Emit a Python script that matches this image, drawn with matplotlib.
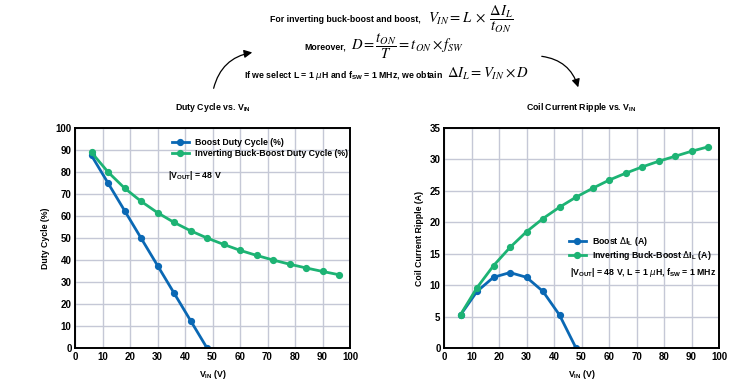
import matplotlib
matplotlib.use('Agg')
import matplotlib.pyplot as plt
from matplotlib.patches import FancyArrowPatch

plt.rcParams['font.family'] = ['Liberation Sans', 'DejaVu Sans']

# Data
vin_boost = [6, 12, 18, 24, 30, 36, 42, 48]
vin_inv = [6, 12, 18, 24, 30, 36, 42, 48, 54, 60, 66, 72, 78, 84, 90, 96]
duty_boost = [87.5, 75.0, 62.5, 50.0, 37.5, 25.0, 12.5, 0.0]
duty_inv = [88.9, 80.0, 72.7, 66.7, 61.5, 57.1, 53.3, 50.0, 47.1, 44.4, 42.1, 40.0, 38.1, 36.4, 34.8, 33.3]
ripple_boost = [5.25, 9.0, 11.25, 12.0, 11.25, 9.0, 5.25, 0.0]
ripple_inv = [5.3, 9.6, 13.1, 16.0, 18.5, 20.6, 22.4, 24.0, 25.4, 26.7, 27.8, 28.8, 29.7, 30.5, 31.3, 32.0]

blue = '#0a68b4'
green = '#1db374'
grid_c = '#c5c8d6'
fs = 6.3

W, H = 738, 384
fig = plt.figure(figsize=(W / 100, H / 100), dpi=100)


def px_axes(x0, y0, x1, y1):
    return fig.add_axes([x0 / W, 1 - y1 / H, (x1 - x0) / W, (y1 - y0) / H])


def style(ax, ymax, ystep):
    ax.set_xlim(0, 100)
    ax.set_ylim(0, ymax)
    ax.set_xticks(range(0, 101, 10))
    ax.set_yticks(range(0, ymax + 1, ystep))
    ax.grid(True, color=grid_c, linewidth=1.0)
    ax.set_axisbelow(True)
    ax.tick_params(length=0, labelsize=7)
    ax.tick_params(axis='y', pad=2.5)
    ax.tick_params(axis='x', pad=3)
    for s in ax.spines.values():
        s.set_linewidth(1.4)
        s.set_color('black')
    for lab in ax.get_xticklabels() + ax.get_yticklabels():
        lab.set_fontweight('bold')
    ax.set_xlabel(r'V$_\mathregular{IN}$ (V)', fontsize=fs, fontweight='bold', labelpad=4)


line_kw = dict(linewidth=2.0, marker='o', markersize=4.2)
leg_kw = dict(loc='upper left', frameon=False, prop={'size': fs, 'weight': 'bold'},
              handlelength=1.9, handletextpad=0.7, labelspacing=0.2, borderpad=0, borderaxespad=0)

# Left: duty cycle
ax1 = px_axes(75, 128, 350, 348)
ax1.plot(vin_boost, duty_boost, color=blue, label='Boost Duty Cycle (%)', **line_kw)
ax1.plot(vin_inv, duty_inv, color=green, label='Inverting Buck-Boost Duty Cycle (%)', **line_kw)
style(ax1, 100, 10)
ax1.set_ylabel('Duty Cycle (%)', fontsize=fs, fontweight='bold', labelpad=4)
ax1.legend(bbox_to_anchor=(0.353, 0.955), **leg_kw)
ax1.text(0.338, 0.786, r'|V$_\mathregular{OUT}$| = 48 V', transform=ax1.transAxes,
         fontsize=fs, fontweight='bold', va='center')
ax1.set_title(r'Duty Cycle vs. V$_\mathregular{IN}$', fontsize=fs, fontweight='bold', pad=13)

# Right: coil current ripple
ax2 = px_axes(444, 128, 719, 348)
ax2.plot(vin_boost, ripple_boost, color=blue, label=r'Boost $\Delta$I$_\mathregular{L}$ (A)', **line_kw)
ax2.plot(vin_inv, ripple_inv, color=green, label=r'Inverting Buck-Boost $\Delta$I$_\mathregular{L}$ (A)', **line_kw)
style(ax2, 35, 5)
ax2.set_ylabel('Coil Current Ripple (A)', fontsize=fs, fontweight='bold', labelpad=4)
ax2.legend(bbox_to_anchor=(0.455, 0.515), **leg_kw)
ax2.text(0.458, 0.345, r'|V$_\mathregular{OUT}$| = 48 V, L = 1 $\mu$H, f$_\mathregular{SW}$ = 1 MHz',
         transform=ax2.transAxes, fontsize=fs, fontweight='bold', va='center')
ax2.set_title(r'Coil Current Ripple vs. V$_\mathregular{IN}$', fontsize=fs, fontweight='bold', pad=13)

# Equations on top
eq_kw = dict(fontsize=10.5, math_fontfamily='stix', va='center', ha='left')
fig.text(421 / W, 1 - 20 / H, 'For inverting buck-boost and boost,', fontsize=fs, fontweight='bold',
         va='center', ha='right')
fig.text(428 / W, 1 - 19 / H, r'$V_{IN} = L\;\times\;\dfrac{\Delta I_L}{t_{ON}}$', **eq_kw)
fig.text(346 / W, 1 - 47 / H, 'Moreover,', fontsize=fs, fontweight='bold', va='center', ha='right')
fig.text(351 / W, 1 - 46 / H, r'$D = \dfrac{t_{ON}}{T} = t_{ON} \times f_{SW}$', **eq_kw)
fig.text(443 / W, 1 - 75 / H, r'If we select L = 1 $\mu$H and f$_\mathregular{SW}$ = 1 MHz, we obtain',
         fontsize=fs, fontweight='bold', va='center', ha='right')
fig.text(447 / W, 1 - 74 / H, r'$\Delta I_L = V_{IN} \times D$', **eq_kw)

# Curved arrows
a1 = FancyArrowPatch((213 / W, 1 - 91 / H), (255 / W, 1 - 52 / H), transform=fig.transFigure,
                     connectionstyle='arc3,rad=-0.35', arrowstyle='-|>', mutation_scale=12,
                     color='black', linewidth=0.9)
a2 = FancyArrowPatch((539 / W, 1 - 56 / H), (579 / W, 1 - 90 / H), transform=fig.transFigure,
                     connectionstyle='arc3,rad=-0.35', arrowstyle='-|>', mutation_scale=12,
                     color='black', linewidth=0.9)
fig.patches.extend([a1, a2])

fig.savefig('out.png', dpi=100)
